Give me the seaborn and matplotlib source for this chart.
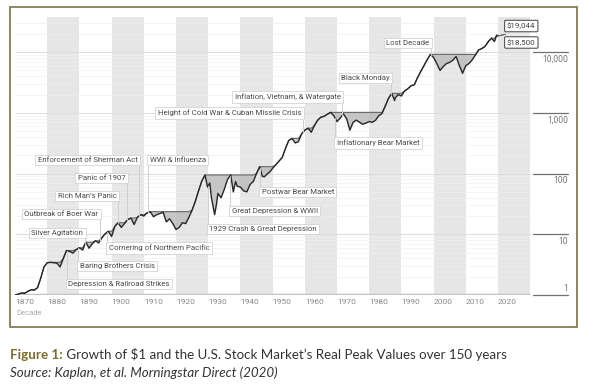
import numpy as np
import matplotlib
matplotlib.use("Agg")
import matplotlib.pyplot as plt
import seaborn as sns
from matplotlib import font_manager
from matplotlib.patches import Rectangle

# growth of $1, real
years = [1870, 1871, 1872, 1873, 1874, 1875, 1876, 1877, 1878, 1879,
         1880, 1881, 1882, 1883, 1884, 1885, 1886, 1887, 1888, 1889,
         1890, 1891, 1892, 1893, 1894, 1895, 1896, 1897, 1898, 1899,
         1900, 1901, 1902, 1903, 1904, 1905, 1906, 1907, 1908, 1909,
         1910, 1911, 1912, 1913, 1914, 1915, 1916, 1917, 1918, 1919,
         1920, 1921, 1922, 1923, 1924, 1925, 1926, 1927, 1928, 1929,
         1929.8, 1930.5, 1931, 1932, 1932.6, 1933, 1934, 1935, 1936, 1937,
         1937.8, 1938.5, 1939, 1940, 1941, 1942, 1943, 1944, 1945, 1946,
         1946.8, 1947.5, 1948, 1949, 1950, 1951, 1952, 1953, 1954, 1955,
         1956, 1957, 1958, 1959, 1960, 1961, 1962, 1963, 1964, 1965,
         1966, 1967, 1968, 1969, 1970, 1971, 1972, 1973, 1974, 1975,
         1976, 1977, 1978, 1979, 1980, 1981, 1982, 1983, 1984, 1985,
         1986, 1987, 1987.9, 1988, 1989, 1990, 1991, 1992, 1993, 1994,
         1995, 1996, 1997, 1998, 1999, 2000, 2001, 2002, 2003, 2004,
         2005, 2006, 2007, 2008, 2009, 2010, 2011, 2012, 2013, 2014,
         2015, 2016, 2017, 2018, 2018.9, 2019.6, 2020]
values = [1.0, 1.03, 1.08, 1.06, 1.15, 1.22, 1.2, 1.32, 1.9, 2.9,
          3.4, 3.45, 3.4, 3.35, 2.9, 4.0, 5.4, 5.2, 4.9, 5.6,
          6.0, 5.5, 7.4, 5.9, 7.0, 7.8, 7.2, 8.8, 10.2, 11.2,
          9.2, 13.5, 15.5, 13.0, 15.0, 17.5, 18.5, 14.5, 19.0, 21.0,
          20.0, 22.5, 23.6, 19.5, 21.0, 22.0, 23.0, 16.0, 18.0, 15.0,
          12.0, 13.0, 15.5, 15.0, 19.0, 25.0, 35.0, 52.0, 75.0, 95.0,
          60.0, 70.0, 40.0, 21.0, 32.0, 47.0, 40.0, 55.0, 80.0, 95.0,
          50.0, 74.0, 62.0, 60.0, 52.0, 50.0, 66.0, 74.0, 100.0, 130.0,
          90.0, 89.0, 95.0, 105.0, 122.0, 140.0, 160.0, 185.0, 260.0, 350.0,
          380.0, 320.0, 335.0, 450.0, 520.0, 560.0, 480.0, 620.0, 760.0, 850.0,
          880.0, 950.0, 1020.0, 900.0, 720.0, 820.0, 960.0, 800.0, 520.0, 700.0,
          760.0, 700.0, 650.0, 680.0, 720.0, 700.0, 760.0, 900.0, 980.0, 1300.0,
          1740.0, 2100.0, 1600.0, 1740.0, 2000.0, 1900.0, 2300.0, 2500.0, 2800.0, 2900.0,
          3800.0, 4800.0, 6000.0, 7500.0, 9200.0, 8200.0, 6500.0, 5000.0, 5800.0, 6500.0,
          6800.0, 7400.0, 8500.0, 6000.0, 4500.0, 6000.0, 6500.0, 7500.0, 9000.0, 10900.0,
          11500.0, 12500.0, 15000.0, 17000.0, 15000.0, 19044.0, 18500.0]

decades = list(range(1870, 2030, 10))
y_levels = [1, 10, 100, 1000, 10000]

# label, box edge year, box height (value), which edge the leader leaves from
events = [
    ("Enforcement of Sherman Act", 1908.5, 167, "right"),
    ("WWI & Influenza", 1911.3, 167, "left"),
    ("Panic of 1907", 1904.8, 85, "right"),
    ("Rich Man\u2019s Panic", 1902.0, 43, "right"),
    ("Outbreak of Boer War", 1896.4, 21.6, "right"),
    ("Silver Agitation", 1891.7, 10.5, "right"),
    ("Cornering of Northern Pacific", 1898.6, 5.95, "left"),
    ("Baring Brothers Crisis", 1889.6, 3.0, "left"),
    ("Depression & Railroad Strikes", 1886.1, 1.52, "left"),
    ("1929 Crash & Great Depression", 1929.9, 12.2, "left"),
    ("Great Depression & WWII", 1936.8, 24.2, "left"),
    ("Postwar Bear Market", 1946.1, 49.8, "left"),
    ("Height of Cold War & Cuban Missile Crisis", 1959.4, 996, "right"),
    ("Inflation, Vietnam, & Watergate", 1971.6, 1828, "right"),
    ("Inflationary Bear Market", 1969.4, 319, "left"),
    ("Black Monday", 1986.8, 3758, "right"),
    ("Lost Decade", 1999.2, 14180, "right"),
]
peak_labels = [("$19,044", 27000), ("$18,500", 14450)]

sns.set_theme(style="white")
names = {f.name for f in font_manager.fontManager.ttflist}
narrow = "Liberation Sans Narrow" if "Liberation Sans Narrow" in names else "Roboto"
plt.rcParams["font.family"] = [narrow, "DejaVu Sans"]

yrs = np.array(years, dtype=float)
vals = np.array(values)
peak = np.maximum.accumulate(vals)

fig = plt.figure(figsize=(6, 3.85), dpi=100)
ax = fig.add_axes([15 / 600, 1 - 295 / 385, 565 / 600, 278 / 385])
ax.set_yscale("log")
xmax = 1870 + 565 / 3.22
ax.set_xlim(1870, xmax)
ax.set_ylim(1, 10 ** (278 / 60.7))
for s in ax.spines.values():
    s.set_visible(False)

for d in range(1880, 2030, 20):
    ax.axvspan(d, d + 10, color="#e6e6e6", lw=0, zorder=0)

minor = [m * 10 ** e for e in range(0, 5) for m in range(2, 10)]
ax.hlines(minor, 1870, 2030, color="#f0f0f0", lw=0.5, zorder=0.5)
ax.hlines(y_levels[1:], 1870, 2030, color="#dcdcdc", lw=0.7, zorder=0.5)
ax.hlines(1, 1870, 2030, color="#c4c4c4", lw=2.5, zorder=1)

ax.fill_between(yrs, vals, peak, where=vals < peak, interpolate=True,
                color="#bcbcbc", alpha=0.85, lw=0, zorder=2)
ax.plot(yrs, peak, color="#666666", lw=0.8, zorder=3)
sns.lineplot(x=yrs, y=vals, ax=ax, color="#262626", lw=1.0, zorder=4)

for v in y_levels:
    ax.plot([2031, xmax - 3.7], [v, v], color="#707070", lw=0.9, clip_on=False)
    if v == 1:
        ax.text(xmax - 3.7, v * 1.08, f"{v:,}", ha="right", va="bottom",
                fontsize=6.2, color="#777777")
    else:
        ax.text(xmax - 3.7, v * 0.9, f"{v:,}", ha="right", va="top",
                fontsize=6.2, color="#777777")

ax.set_xticks(decades)
ax.set_xticklabels([str(d) for d in decades], ha="left")
ax.set_yticks([])
ax.tick_params(axis="x", length=0, pad=3, labelsize=6, labelcolor="#888888")
ax.minorticks_off()

logv = np.log10(vals)
for label, ex, ty, side in events:
    cy = 10 ** np.interp(ex, yrs, logv)
    ax.plot([ex, ex], [ty, cy], color="#cfcfcf", lw=0.7, zorder=5)
    tx = ex - 0.5 if side == "right" else ex + 0.5
    ax.text(tx, ty, label, ha=side, va="center", fontsize=5.6, color="#4a4a4a",
            zorder=6, bbox=dict(boxstyle="square,pad=0.3", fc="white",
                                ec="#d4d4d4", lw=0.6))

end_x, end_y = yrs[-1], vals[-1]
for label, ty in peak_labels:
    ax.plot([end_x, 2022.3], [end_y, 10 ** ((np.log10(27000) + np.log10(14450)) / 2)],
            color="#666666", lw=0.7, zorder=5)
    ax.text(2022.8, ty, label, ha="left", va="center", fontsize=5.8, color="#444444",
            zorder=6, bbox=dict(boxstyle="round,pad=0.3,rounding_size=0.15",
                                fc="white", ec="#555555", lw=0.8))

fig.text(16 / 600, 1 - 313 / 385, "Decade", fontsize=5.5, color="#aaaaaa", va="center")

fig.add_artist(Rectangle((10 / 600, 1 - 327 / 385), 567 / 600, 320 / 385,
                         transform=fig.transFigure, fill=False, ec="#8a7c50", lw=1.3))

cap = ["Lato", "DejaVu Sans"]
t1 = fig.text(10 / 600, 1 - 359 / 385, "Figure 1:", fontsize=9.6, fontweight="bold",
              color="#7d6a2c", family=cap, va="baseline")
ax.annotate(" Growth of $1 and the U.S. Stock Market\u2019s Real Peak Values over 150 years",
            xy=(1, 0), xycoords=t1, va="bottom", ha="left", fontsize=9.6,
            color="#333333", family=cap, annotation_clip=False)
fig.text(10 / 600, 1 - 377 / 385, "Source: Kaplan, et al. Morningstar Direct (2020)",
         fontsize=9.6, style="italic", color="#333333", family=cap, va="baseline")

fig.savefig("out.png", dpi=100)
